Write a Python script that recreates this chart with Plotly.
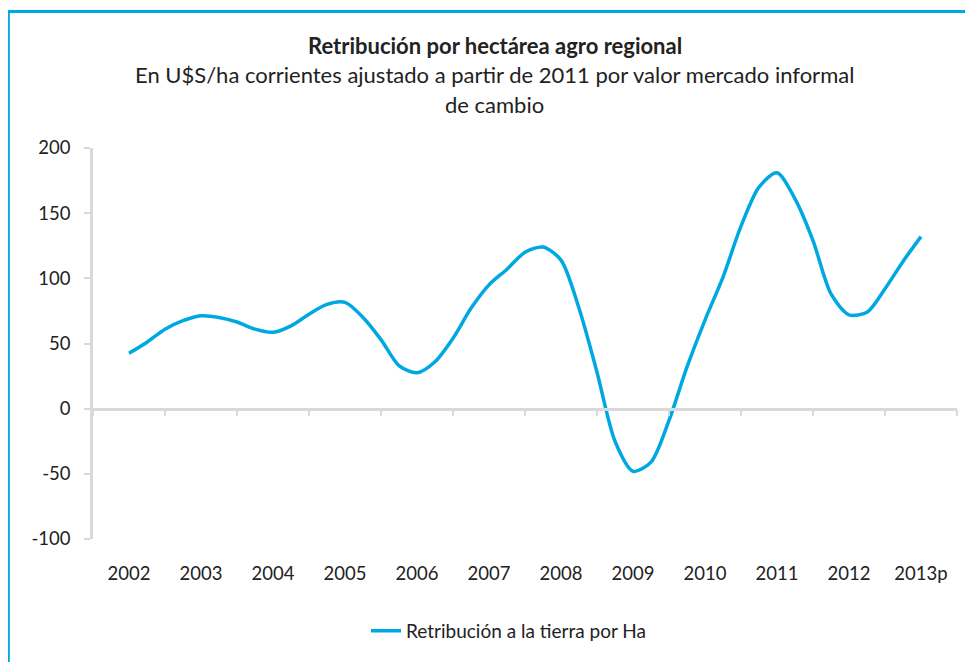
import plotly.graph_objects as go

# Quarterly readings of the series (2002 .. 2013p)
periods = [2002 + 0.25 * i for i in range(45)]
values = [42.5, 51, 61, 67.5, 71.3, 70, 66.5, 61, 58.6, 63.5, 72.5, 80,
          81.5, 70, 53, 33, 27.5, 36, 54, 77, 95, 107, 120, 124,
          114, 77, 28, -25, -48, -41, -9, 32, 68, 101, 140, 170,
          181, 161, 129, 88, 72, 74, 92, 113, 132]

years = [2002, 2003, 2004, 2005, 2006, 2007, 2008, 2009, 2010, 2011, 2012, 2013]
year_labels = ["2002", "2003", "2004", "2005", "2006", "2007", "2008", "2009",
               "2010", "2011", "2012", "2013p"]
boundaries = [y - 0.5 for y in years] + [years[-1] + 0.5]

y_ticks = [-100, -50, 0, 50, 100, 150, 200]
y_labels = ["-100", "-50", "0", "50", "100", "150", "200"]

series_name = "Retribución a la tierra por Ha"
title = "Retribución por hectárea agro regional"
subtitle1 = "En U$S/ha corrientes ajustado a partir de 2011 por valor mercado informal"
subtitle2 = "de cambio"

FONT = "Lato, 'Open Sans', sans-serif"
BLUE = "#00A8E1"
AXIS = "#D9D9D9"
TEXT = "#222222"

fig = go.Figure()
fig.add_trace(go.Scatter(
    x=periods, y=values, mode="lines", name=series_name,
    line=dict(color=BLUE, width=3.5, shape="spline", smoothing=0.8),
))

fig.update_layout(
    width=965, height=654,
    margin=dict(l=85, r=16, t=140, b=123),
    paper_bgcolor="white", plot_bgcolor="white",
    font=dict(family=FONT, size=18.5, color=TEXT),
    showlegend=True,
    legend=dict(x=0.316, y=-0.235, xanchor="left", yanchor="middle",
                font=dict(size=19, color=TEXT), bgcolor="rgba(0,0,0,0)"),
    xaxis=dict(
        range=[2001.5, 2013.5], anchor="free", position=1/3,
        tickmode="array", tickvals=years, ticktext=year_labels,
        ticks="", showgrid=False, zeroline=False,
        showline=True, linecolor=AXIS, linewidth=2.5,
        ticklabelstandoff=147,
        minor=dict(tickmode="array", tickvals=boundaries, ticks="outside",
                   ticklen=6, tickwidth=2, tickcolor=AXIS, showgrid=False),
        tickfont=dict(size=18.5, color=TEXT),
    ),
    yaxis=dict(
        range=[-100, 200], tickmode="array", tickvals=y_ticks, ticktext=y_labels,
        ticks="outside", ticklen=6, tickwidth=2, tickcolor=AXIS,
        showline=True, linecolor=AXIS, linewidth=2.5,
        showgrid=False, zeroline=False, ticklabelstandoff=10,
        tickfont=dict(size=18.5, color=TEXT),
    ),
    annotations=[
        dict(text="<b>" + title + "</b>", xref="paper", yref="paper",
             x=0.465, y=1.263, xanchor="center", yanchor="middle",
             showarrow=False, font=dict(size=22, color=TEXT)),
        dict(text=subtitle1, xref="paper", yref="paper",
             x=0.465, y=1.187, xanchor="center", yanchor="middle",
             showarrow=False, font=dict(size=22, color=TEXT)),
        dict(text=subtitle2, xref="paper", yref="paper",
             x=0.465, y=1.1125, xanchor="center", yanchor="middle",
             showarrow=False, font=dict(size=22, color=TEXT)),
    ],
    shapes=[dict(type="rect", xref="paper", yref="paper",
                 x0=-0.098, x1=1.03, y0=-0.34, y1=1.349,
                 line=dict(color=BLUE, width=3), layer="above")],
)

fig.write_html("out.html")
